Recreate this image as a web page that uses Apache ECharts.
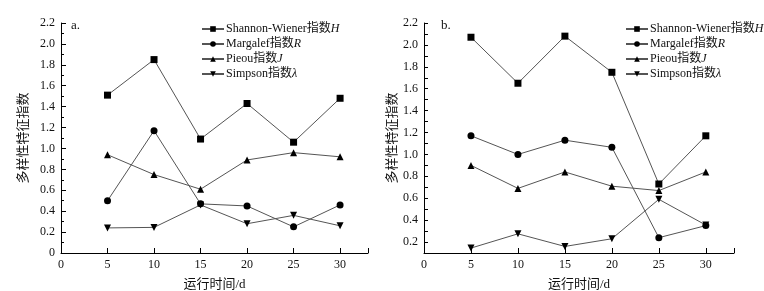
<!DOCTYPE html>
<html>
<head>
<meta charset="utf-8">
<script src="https://cdn.jsdelivr.net/npm/echarts@6/dist/echarts.min.js"></script>
<style>
html, body { margin: 0; padding: 0; background: #fff; }
#chart { width: 764px; height: 291px; }
</style>
</head>
<body>
<div id="chart"></div>
<script>
// 运行时间 (d)
var days = [5, 10, 15, 20, 25, 30]

// a. 多样性指数
var aShannon = [1.51, 1.85, 1.09, 1.43, 1.06, 1.48]
var aMargalef = [0.50, 1.17, 0.47, 0.45, 0.25, 0.46]
var aPieou = [0.94, 0.75, 0.61, 0.89, 0.96, 0.92]
var aSimpson = [0.24, 0.245, 0.46, 0.28, 0.36, 0.26]

// b. 多样性指数
var bShannon = [2.07, 1.65, 2.08, 1.75, 0.73, 1.17]
var bMargalef = [1.17, 1.00, 1.13, 1.065, 0.24, 0.35]
var bPieou = [0.90, 0.69, 0.84, 0.71, 0.67, 0.84]
var bSimpson = [0.145, 0.275, 0.16, 0.23, 0.59, 0.355]

var names = ['Shannon-Wiener指数H', 'Margalef指数R', 'Pieou指数J', 'Simpson指数λ']
var fontFam = '"Liberation Serif", "Noto Sans CJK SC", serif'
var lineColor = '#555'

function pairs (ys) {
  return days.map(function (d, i) { return [d, ys[i]] })
}

function makeSeries (idx, data) {
  var syms = ['rect', 'circle', 'triangle', 'triangle']
  var out = []
  for (var k = 0; k < 4; k++) {
    out.push({
      name: names[k],
      type: 'line',
      xAxisIndex: idx,
      yAxisIndex: idx,
      data: pairs(data[k]),
      symbol: syms[k],
      symbolSize: 7,
      symbolRotate: k === 3 ? 180 : 0,
      showSymbol: true,
      lineStyle: { color: lineColor, width: 1 },
      itemStyle: { color: '#000' }
    })
  }
  return out
}

// 最后一个字母用斜体
function legendFmt (name) {
  var head = name.slice(0, name.length - 1)
  var tail = name.slice(name.length - 1)
  return '{n|' + head + '}{i|' + tail + '}'
}

function makeLegend (left) {
  return {
    orient: 'vertical',
    left: left,
    top: 23,
    padding: 0,
    itemWidth: 22,
    itemHeight: 7,
    itemGap: 3,
    data: names,
    formatter: legendFmt,
    textStyle: {
      color: '#111',
      fontFamily: fontFam,
      fontSize: 12,
      padding: [0, 0, 0, -3],
      rich: {
        n: { fontFamily: fontFam, fontSize: 12, lineHeight: 13, color: '#111' },
        i: { fontFamily: fontFam, fontSize: 12, lineHeight: 13, fontStyle: 'italic', color: '#111' }
      }
    }
  }
}

function makeX (idx) {
  return {
    type: 'value',
    gridIndex: idx,
    min: 0,
    max: 33,
    interval: 5,
    name: '运行时间/d',
    nameLocation: 'middle',
    nameGap: 25,
    nameTextStyle: { color: '#111', fontFamily: fontFam, fontSize: 13 },
    axisLine: { show: true, lineStyle: { color: '#000', width: 1 } },
    axisTick: { show: true, inside: true, length: 5, lineStyle: { color: '#000' } },
    splitLine: { show: false },
    axisLabel: {
      color: '#111',
      fontFamily: fontFam,
      fontSize: 12,
      margin: 6,
      formatter: function (v) { return v % 5 === 0 ? String(v) : '' }
    }
  }
}

function yLabel (v) {
  var t = Math.round(v * 10)
  if (t % 2 !== 0) return ''
  return t === 0 ? '0' : (t / 10).toFixed(1)
}

var yLeft = {
  type: 'value',
  gridIndex: 0,
  min: 0,
  max: 2.2,
  interval: 0.2,
  name: '多样性特征指数',
  nameLocation: 'middle',
  nameGap: 31,
  nameTextStyle: { color: '#111', fontFamily: fontFam, fontSize: 13 },
  axisLine: { show: true, lineStyle: { color: '#000', width: 1 } },
  axisTick: { show: true, inside: true, length: 5, lineStyle: { color: '#000' } },
  minorTick: { show: true, splitNumber: 2, length: 3, lineStyle: { color: '#000' } },
  splitLine: { show: false },
  minorSplitLine: { show: false },
  axisLabel: { color: '#111', fontFamily: fontFam, fontSize: 12, margin: 6, formatter: yLabel }
}

var yRight = {
  type: 'value',
  gridIndex: 1,
  min: 0.1,
  max: 2.2,
  interval: 0.1,
  name: '多样性特征指数',
  nameLocation: 'middle',
  nameGap: 24,
  nameTextStyle: { color: '#111', fontFamily: fontFam, fontSize: 13 },
  axisLine: { show: true, lineStyle: { color: '#000', width: 1 } },
  axisTick: { show: true, inside: true, length: 4, lineStyle: { color: '#000' } },
  splitLine: { show: false },
  axisLabel: { color: '#111', fontFamily: fontFam, fontSize: 12, margin: 6, formatter: yLabel }
}

var chart = echarts.init(document.getElementById('chart'))
chart.setOption({
  backgroundColor: '#fff',
  animation: false,
  grid: [
    { left: 61, top: 23, width: 307, height: 230, outerBoundsMode: 'none' },
    { left: 424, top: 23, width: 310, height: 230, outerBoundsMode: 'none' }
  ],
  legend: [makeLegend(201), makeLegend(625)],
  xAxis: [makeX(0), makeX(1)],
  yAxis: [yLeft, yRight],
  graphic: [
    { type: 'text', left: 71, top: 19, style: { text: 'a.', fontFamily: fontFam, fontSize: 13, fill: '#111' } },
    { type: 'text', left: 441, top: 19, style: { text: 'b.', fontFamily: fontFam, fontSize: 13, fill: '#111' } }
  ],
  series: makeSeries(0, [aShannon, aMargalef, aPieou, aSimpson])
    .concat(makeSeries(1, [bShannon, bMargalef, bPieou, bSimpson]))
})
</script>
</body>
</html>
